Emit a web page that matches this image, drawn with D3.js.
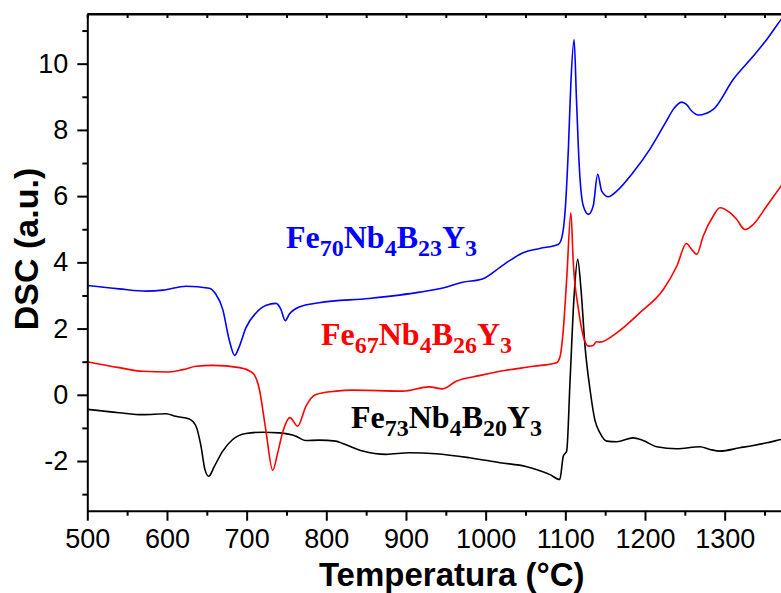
<!DOCTYPE html>
<html><head><meta charset="utf-8">
<script src="https://cdn.jsdelivr.net/npm/d3@7/dist/d3.min.js"></script>
<style>
html,body{margin:0;padding:0;background:#fff;}
svg{display:block;}
</style></head>
<body>
<svg id="chart" width="781" height="593"></svg>
<script>
// ---- data ----
const tempBlue = [500,540,574,595,624,653,661,670,678,685,691,699,712,724,737,743,748.5,753.5,766,791,854,917,950,971,996,1018,1030,1047,1068,1091,1095.5,1099.6,1103.8,1107,1111,1114,1117.5,1122.6,1129,1135,1140.6,1145.7,1154,1164.5,1185,1206,1227,1235.5,1246,1252,1258.6,1267,1285.7,1310.9,1336,1352.8,1370.7,1380];
const dscBlue  = [3.30,3.20,3.13,3.16,3.28,3.22,3.05,2.58,1.67,1.19,1.47,2.02,2.48,2.70,2.76,2.58,2.24,2.43,2.65,2.78,2.91,3.10,3.25,3.40,3.50,3.85,4.05,4.29,4.42,4.54,4.74,5.5,7.41,9.43,10.73,8.92,6.9,5.70,5.45,5.70,6.66,6.15,5.98,6.15,6.71,7.41,8.27,8.62,8.84,8.77,8.57,8.45,8.62,9.53,10.23,10.73,11.33,11.6];

const tempRed = [500,540,569.5,603,620,636.5,657,691,707.6,716,724,732.7,739,745,754.4,764,774.5,787,812,833,896,929,946,963,992,1018,1060,1089,1093,1097.5,1101.7,1107,1110,1116.5,1122.6,1129,1135,1139,1143.5,1164.5,1193.7,1223,1240,1252,1258.6,1265,1273,1285.7,1294,1306.7,1315,1325.5,1336,1352.8,1370.7,1380];
const dscRed  = [1.00,0.82,0.71,0.69,0.76,0.86,0.89,0.82,0.66,0.16,-1.05,-2.28,-1.75,-1.15,-0.69,-0.95,-0.34,0.01,0.11,0.14,0.11,0.24,0.18,0.41,0.58,0.71,0.86,0.97,1.12,1.97,3.48,5.5,3.99,2.58,1.77,1.47,1.49,1.60,1.59,1.87,2.48,3.18,3.89,4.57,4.39,4.24,4.79,5.40,5.65,5.50,5.30,4.99,5.15,5.70,6.30,6.6];

const tempBlack = [500,540,569.5,599,611,628,636.5,642.7,647.7,652.4,659.5,670,682.5,699,720,741,762,773.6,791,812,820.6,845.7,875,904,937.7,979.5,1018,1051.5,1080.8,1093,1097.5,1101.7,1106,1111,1115.5,1119.7,1124.7,1131,1137,1143.5,1152,1164.5,1185,1197.6,1214.7,1240,1269,1281.6,1294,1319,1336,1352.8,1370.7,1380];
const dscBlack  = [-0.44,-0.54,-0.60,-0.57,-0.65,-0.73,-0.95,-1.55,-2.26,-2.46,-2.16,-1.70,-1.35,-1.17,-1.13,-1.15,-1.25,-1.38,-1.37,-1.40,-1.47,-1.70,-1.80,-1.75,-1.78,-1.90,-2.05,-2.17,-2.41,-2.56,-1.85,-1.70,0.46,2.98,4.09,3.18,1.47,0.16,-0.75,-1.15,-1.40,-1.42,-1.30,-1.38,-1.57,-1.63,-1.57,-1.65,-1.70,-1.60,-1.53,-1.45,-1.35,-1.30];

const xTicks = [500,600,700,800,900,1000,1100,1200,1300];
const xMinor = [550,650,750,850,950,1050,1150,1250,1350];
const yTicks = [-2,0,2,4,6,8,10];
const yMinor = [-3,-1,1,3,5,7,9,11];

// labels: [main, sub] pieces
const labelBlue  = [["Fe","70"],["Nb","4"],["B","23"],["Y","3"]];
const labelRed   = [["Fe","67"],["Nb","4"],["B","26"],["Y","3"]];
const labelBlack = [["Fe","73"],["Nb","4"],["B","20"],["Y","3"]];

// ---- layout ----
const L = 87.3, T = 14, B = 510.7;
const x = d3.scaleLinear().domain([500, 1380]).range([L, L + 880 * 0.7967]);
const y = d3.scaleLinear().domain([-3.5, 11.5]).range([B, T]);
const R = x.range()[1];

const svg = d3.select("#chart");
const font = "'Liberation Sans', Arial, Helvetica, sans-serif";
const serif = "'Liberation Serif', 'Times New Roman', serif";

svg.append("defs").append("clipPath").attr("id","clip")
  .append("rect").attr("x", L).attr("y", T).attr("width", R - L).attr("height", B - T);

const line = d3.line().x(d => x(d[0])).y(d => y(d[1])).curve(d3.curveMonotoneX);
const series = [
  {t: tempBlack, v: dscBlack, c: "#000000"},
  {t: tempRed, v: dscRed, c: "#ff0000"},
  {t: tempBlue, v: dscBlue, c: "#0000ff"}
];
const g = svg.append("g").attr("clip-path","url(#clip)");
series.forEach(s => {
  g.append("path").datum(s.t.map((t,i) => [t, s.v[i]]))
    .attr("d", line).attr("fill","none").attr("stroke", s.c).attr("stroke-width", 1.6);
});

// axes
const plainFmt = d => String(d);
function styleAxis(sel){
  sel.select(".domain").attr("stroke","#000").attr("stroke-width",2);
  sel.selectAll(".tick line").attr("stroke","#000").attr("stroke-width",2);
  sel.selectAll("text").attr("font-family", font).attr("font-size", 27).attr("fill","#000");
}
const xAxis = svg.append("g").attr("transform",`translate(0,${B})`)
  .call(d3.axisBottom(x).tickValues(xTicks).tickSize(10).tickPadding(8).tickSizeOuter(0).tickFormat(plainFmt));
styleAxis(xAxis);
const xAxisMinor = svg.append("g").attr("transform",`translate(0,${B})`)
  .call(d3.axisBottom(x).tickValues(xMinor).tickSize(5).tickFormat("").tickSizeOuter(0));
styleAxis(xAxisMinor);
xAxisMinor.select(".domain").remove();

const yAxis = svg.append("g").attr("transform",`translate(${L},0)`)
  .call(d3.axisLeft(y).tickValues(yTicks).tickSize(10).tickPadding(9).tickSizeOuter(0).tickFormat(plainFmt));
styleAxis(yAxis);
const yAxisMinor = svg.append("g").attr("transform",`translate(${L},0)`)
  .call(d3.axisLeft(y).tickValues(yMinor).tickSize(5).tickFormat("").tickSizeOuter(0));
styleAxis(yAxisMinor);
yAxisMinor.select(".domain").remove();

// top frame with small inward ticks
const xTop = svg.append("g").attr("transform",`translate(0,${T})`)
  .call(d3.axisBottom(x).tickValues(xTicks.concat(xMinor)).tickSize(4).tickFormat("").tickSizeOuter(0));
styleAxis(xTop);
svg.append("line").attr("x1", L).attr("x2", R).attr("y1", T).attr("y2", T).attr("stroke","#000").attr("stroke-width",2);
svg.append("line").attr("x1", R).attr("x2", R).attr("y1", T).attr("y2", B).attr("stroke","#000").attr("stroke-width",2);

// axis titles
svg.append("text").attr("x", 451.7).attr("y", 586).attr("text-anchor","middle")
  .attr("font-family", font).attr("font-weight","bold").attr("font-size", 33).text("Temperatura (°C)");
svg.append("text").attr("transform","translate(38,249) rotate(-90)").attr("text-anchor","middle")
  .attr("font-family", font).attr("font-weight","bold").attr("font-size", 34).text("DSC (a.u.)");

// series labels
function formula(parts, px, py, color){
  const t = svg.append("text").attr("x", px).attr("y", py).attr("fill", color)
    .attr("font-family", serif).attr("font-weight","bold").attr("font-size", 32);
  parts.forEach(p => {
    t.append("tspan").text(p[0]).attr("font-size", 32);
    t.append("tspan").text(p[1]).attr("font-size", 24).attr("baseline-shift", "-8");
  });
}
formula(labelBlue, 286, 248, "#0000ff");
formula(labelRed, 321, 345, "#ff0000");
formula(labelBlack, 351, 428, "#000000");
</script>
</body></html>
